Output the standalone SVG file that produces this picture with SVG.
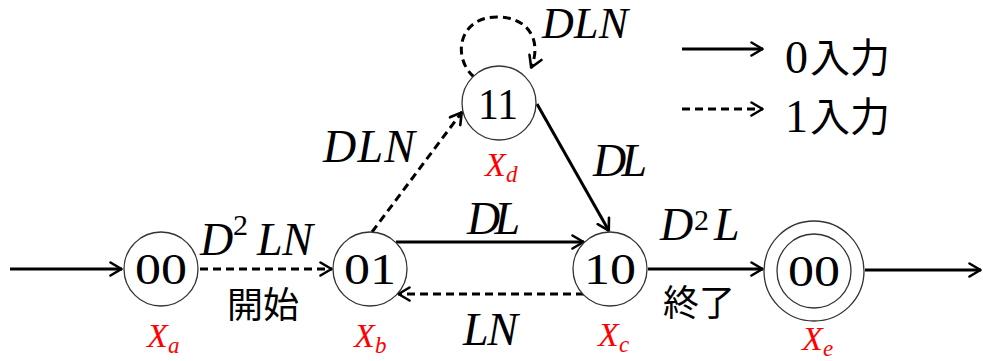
<svg xmlns="http://www.w3.org/2000/svg" width="983" height="361" viewBox="0 0 983 361">
<defs>
<marker id="ah" viewBox="0 0 14 16" refX="13" refY="8" markerWidth="14" markerHeight="16" markerUnits="userSpaceOnUse" orient="auto">
<path d="M1.5,1.5 L12.5,8 L1.5,14.5" fill="none" stroke="#000" stroke-width="2.6" stroke-linecap="round" stroke-linejoin="round"/>
</marker>
</defs>
<style>
.node{fill:#fff;stroke:#333;stroke-width:1.3}
.num{font-size:44px;fill:#000;text-anchor:middle}
.math{font-style:italic;font-size:46px;fill:#000}
.sup{font-style:normal;font-size:30px}
.red{font-style:italic;font-size:34px;fill:#f00}
.sub{font-size:23px}
.jp{font-size:36px;fill:#000}
.lg{font-size:46px;fill:#000}
.solid{fill:none;stroke:#000;stroke-width:3;marker-end:url(#ah)}
.dash{fill:none;stroke:#000;stroke-width:3;stroke-dasharray:8 5;marker-end:url(#ah)}
</style>
<rect width="983" height="361" fill="#fff"/>
<g id="connectors">
<line class="solid" x1="10" y1="269" x2="122" y2="269"/>
<line class="dash" x1="200" y1="269" x2="332" y2="269"/>
<line class="solid" x1="396" y1="242" x2="584" y2="242"/>
<line class="dash" x1="584" y1="294" x2="398" y2="294"/>
<line class="dash" x1="372" y1="232" x2="462" y2="112"/>
<line class="solid" x1="537" y1="104" x2="609" y2="231"/>
<line class="solid" x1="648" y1="269" x2="763" y2="269"/>
<line class="solid" x1="865" y1="270" x2="981" y2="270"/>
<path class="dash" d="M474,77 C452,58 458,17 497,17 C530,17 542,42 531,68"/>
</g>
<g id="node-Xa" font-family="Liberation Serif, Noto Sans CJK JP, serif">
<circle class="node" cx="161" cy="269" r="37"/>
<text class="num" x="161" y="284" textLength="52" lengthAdjust="spacingAndGlyphs">00</text>
<text class="red" x="147" y="347">X<tspan class="sub" x="168" y="353">a</tspan></text>
</g>
<g id="node-Xb" font-family="Liberation Serif, Noto Sans CJK JP, serif">
<circle class="node" cx="370" cy="269" r="37"/>
<text class="num" x="370" y="284" textLength="52" lengthAdjust="spacingAndGlyphs">01</text>
<text class="red" x="354" y="347">X<tspan class="sub" x="375" y="353">b</tspan></text>
</g>
<g id="node-Xd" font-family="Liberation Serif, Noto Sans CJK JP, serif">
<circle class="node" cx="499" cy="103" r="37"/>
<text class="num" x="498" y="119" textLength="40" lengthAdjust="spacingAndGlyphs">11</text>
<text class="red" x="485" y="176">X<tspan class="sub" x="506" y="182">d</tspan></text>
</g>
<g id="node-Xc" font-family="Liberation Serif, Noto Sans CJK JP, serif">
<circle class="node" cx="610" cy="269" r="37"/>
<text class="num" x="610" y="284" textLength="52" lengthAdjust="spacingAndGlyphs">10</text>
<text class="red" x="598" y="346">X<tspan class="sub" x="619" y="352">c</tspan></text>
</g>
<g id="node-Xe" font-family="Liberation Serif, Noto Sans CJK JP, serif">
<circle class="node" cx="814" cy="271" r="50"/>
<circle class="node" cx="814" cy="271" r="37"/>
<text class="num" x="814" y="286" textLength="52" lengthAdjust="spacingAndGlyphs">00</text>
<text class="red" x="802" y="350">X<tspan class="sub" x="823" y="356">e</tspan></text>
</g>
<g id="labels" font-family="Liberation Serif, Noto Sans CJK JP, serif">
<text class="math" x="200" y="255">D<tspan class="sup" x="233" y="235">2</tspan><tspan x="257" y="255" textLength="56">LN</tspan></text>
<text class="math" x="323" y="162" textLength="92">DLN</text>
<text class="math" x="542" y="38" style="font-size:44px" textLength="86">DLN</text>
<text class="math" x="593" y="176" textLength="54">DL</text>
<text class="math" x="467" y="234" textLength="53">DL</text>
<text class="math" x="463" y="345" textLength="55">LN</text>
<text class="math" x="660" y="240">D<tspan class="sup" x="694" y="230">2</tspan><tspan x="714" y="240">L</tspan></text>
<text class="jp" x="227" y="318" font-family="Noto Sans CJK JP, sans-serif">開始</text>
<text class="jp" x="663" y="316" font-family="Noto Sans CJK JP, sans-serif">終了</text>
</g>
<g id="legend">
<line class="solid" x1="682" y1="49" x2="763" y2="49"/>
<text class="lg" x="785" y="73" font-family="Liberation Serif, Noto Sans CJK JP, serif">0</text>
<text class="jp" x="810" y="72" font-family="Noto Sans CJK JP, sans-serif" style="font-size:40px">入力</text>
<line class="dash" x1="682" y1="109" x2="763" y2="109"/>
<text class="lg" x="785" y="132" font-family="Liberation Serif, Noto Sans CJK JP, serif">1</text>
<text class="jp" x="810" y="131" font-family="Noto Sans CJK JP, sans-serif" style="font-size:40px">入力</text>
</g>
</svg>
